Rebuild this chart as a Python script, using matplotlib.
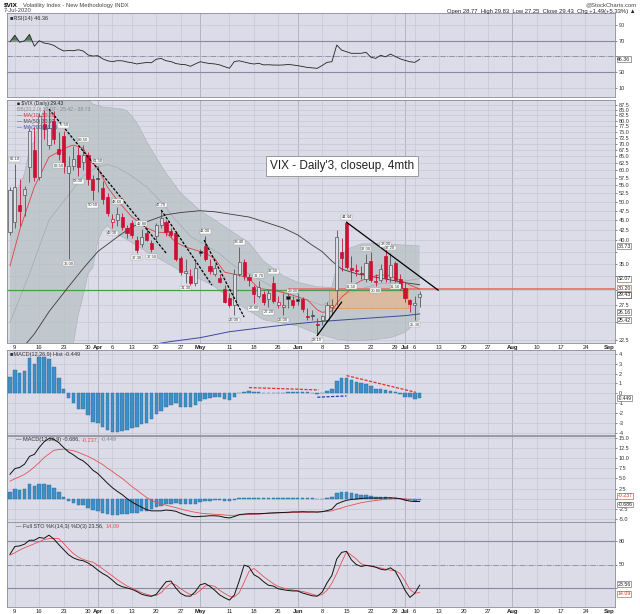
import numpy as np
import pandas as pd
import matplotlib
matplotlib.use("Agg")
import matplotlib.pyplot as plt
from matplotlib.patches import Rectangle
from matplotlib.ticker import NullLocator, NullFormatter

plt.rcParams["font.family"] = ["Liberation Sans", "DejaVu Sans"]

# trading days on the axis (Mar 6 .. Sep 1 2020), market holidays skipped
holidays = ["2020-04-10", "2020-05-25", "2020-07-03"]
days = pd.bdate_range("2020-03-06", "2020-09-01")
days = days[~days.isin(pd.to_datetime(holidays))]

opens = [42.0, 44.5, 49.2, 52.0, 61.0, 67.5, 57.8, 78.5, 69.4, 80.0,
         68.0, 73.0, 59.0, 61.5, 65.5, 63.0, 65.5, 57.0, 57.4, 54.2,
         51.3, 44.6, 44.9, 45.7, 43.1, 44.3, 40.2, 39.2, 41.8, 39.5,
         41.0, 43.8, 44.5, 42.3, 41.8, 36.2, 33.2, 32.5, 31.2, 37.6,
         38.8, 34.6, 33.0, 32.1, 30.2, 28.6, 27.6, 33.0, 35.3, 32.3,
         30.5, 29.0, 29.3, 28.5, 31.3, 27.5, 27.2, 29.0, 28.3, 28.5,
         28.5, 25.9, 26.0, 24.6, 25.2, 25.3, 27.3, 30.0, 37.5, 44.2,
         34.1, 33.8, 33.2, 32.0, 35.5, 31.6, 31.8, 36.5, 32.3, 35.2,
         32.0, 30.3, 28.4, 27.6, 28.77]
highs = [54.4, 62.1, 57.0, 54.8, 76.8, 77.0, 83.6, 84.8, 85.47, 84.3,
         75.0, 75.5, 65.0, 69.0, 68.5, 69.5, 66.5, 58.5, 61.5, 56.5,
         52.5, 46.5, 48.6, 47.0, 43.8, 45.0, 41.0, 42.8, 43.0, 40.0,
         44.2, 47.7, 45.0, 43.0, 42.2, 36.5, 36.0, 34.0, 35.5, 38.0,
         41.0, 36.0, 35.0, 33.0, 31.0, 29.5, 34.0, 38.4, 36.0, 33.0,
         31.0, 31.7, 29.8, 30.0, 32.5, 29.0, 29.5, 29.5, 29.0, 29.5,
         28.8, 27.0, 26.8, 25.5, 26.0, 28.0, 28.5, 42.5, 40.5, 44.44,
         36.5, 35.0, 34.5, 37.0, 37.5, 33.0, 35.0, 38.0, 37.2, 35.6,
         33.0, 31.5, 28.5, 29.0, 29.83]
lows = [41.2, 43.0, 43.5, 46.0, 56.0, 56.5, 56.8, 72.0, 68.0, 70.0,
        63.5, 59.0, 36.0, 60.0, 58.0, 60.0, 55.0, 50.5, 53.0, 49.5,
        46.0, 43.0, 43.5, 42.5, 40.5, 40.5, 37.3, 38.5, 39.8, 37.5,
        40.0, 43.0, 41.0, 40.8, 35.5, 32.8, 31.3, 31.0, 30.8, 36.5,
        35.5, 33.0, 32.5, 31.2, 27.8, 27.3, 26.0, 32.5, 31.8, 30.8,
        27.8, 28.6, 27.5, 27.2, 27.9, 27.0, 26.0, 27.0, 27.0, 27.5,
        26.5, 25.2, 25.2, 23.1, 24.5, 25.0, 26.0, 27.5, 33.5, 34.0,
        31.5, 32.5, 32.0, 31.5, 31.5, 30.8, 31.5, 31.5, 31.5, 31.5,
        30.0, 28.0, 26.5, 25.3, 27.25]
closes = [53.5, 54.46, 47.30, 53.90, 75.47, 57.83, 82.0, 76.0, 76.45, 72.00,
          66.04, 61.59, 61.67, 63.95, 61.00, 65.54, 57.08, 53.54, 57.06, 50.91,
          46.80, 45.24, 46.70, 43.35, 41.67, 41.17, 37.76, 40.84, 40.11, 38.15,
          43.83, 45.41, 41.98, 41.38, 35.93, 33.29, 33.57, 31.23, 34.15, 37.19,
          35.97, 33.61, 34.12, 31.44, 27.98, 27.57, 33.04, 35.28, 32.61, 31.89,
          29.30, 30.53, 27.99, 29.53, 28.16, 28.01, 27.62, 28.59, 27.51, 28.23,
          26.84, 25.66, 25.81, 24.52, 25.81, 27.57, 27.57, 40.79, 36.09, 34.40,
          33.67, 33.47, 32.94, 35.12, 31.77, 31.37, 33.84, 32.22, 34.73, 31.78,
          30.43, 28.62, 27.68, 27.94, 29.43]

# overlays (day index, value)
ma10_i = [0, 2, 5, 8, 12, 13, 15, 16, 18, 20, 22, 25, 28, 30, 32, 34, 36, 38, 40, 42,
          44, 47, 49, 51, 54, 57, 61, 63, 64, 66, 67, 68, 70, 71, 72, 74, 76, 78, 80, 82, 84]
ma10_v = [34.5, 42.5, 54.5, 64.8, 68.8, 69.4, 68.2, 64.8, 60.8, 54.4, 50.5, 45.8, 43.0, 42.0,
          41.8, 39.6, 38.5, 37.85, 37.2, 36.0, 33.3, 32.7, 32.1, 30.3, 30.0, 29.4, 28.35, 26.8,
          26.4, 26.6, 27.8, 28.8, 30.3, 31.2, 31.7, 32.4, 32.8, 32.6, 31.8, 30.9, 30.2]
ma50_i = [3, 5, 8, 12, 15, 18, 22, 25, 29, 32, 35, 39, 42, 45, 49, 52, 56, 59, 62, 64,
          66, 68, 71, 74, 77, 80, 82, 84]
ma50_v = [21.8, 23.3, 26.5, 30.6, 34.0, 37.5, 40.8, 43.3, 45.0, 46.4, 47.0, 47.5, 47.2, 46.6,
          45.8, 44.6, 43.0, 41.3, 38.9, 37.5, 35.5, 33.9, 33.0, 32.5, 32.0, 31.5, 31.2, 30.97]
ma200_i = [28, 33, 39, 45, 51, 57, 63, 69, 75, 81, 84]
ma200_v = [21.8, 22.3, 22.8, 23.6, 24.1, 24.6, 25.0, 25.3, 25.6, 25.9, 26.16]
bbu_i = [0, 1, 2, 3, 4, 5, 6, 7, 8, 9, 11, 13, 15, 17, 19, 21, 23, 24, 25, 26, 27, 28, 30,
         32, 35, 39, 42, 45, 49, 52, 56, 59, 63, 66, 67, 68, 69, 72, 76, 80, 84]
bbu_v = [46, 52, 55, 59, 68, 71, 80, 85, 89, 92, 95, 95, 93, 88, 86.5, 86, 85.5, 84.5, 82,
         79, 75, 71, 64.5, 59, 52.6, 47.5, 45, 42.5, 39.5, 35.5, 32.6, 31.4, 30.6, 30.5,
         34.5, 36.5, 38, 39.2, 39.3, 39.0, 38.73]
bbl_i = [0, 6, 10, 12, 13, 14, 15, 16, 17, 18, 19, 20, 22, 25, 28, 32, 35, 39, 42, 45,
         47, 52, 59, 63, 66, 67, 70, 74, 78, 81, 84]
bbl_v = [8, 8, 12, 18, 22, 26, 29, 33, 34.2, 39.8, 42.5, 43.5, 41.5, 39.5, 37.5, 35.2, 33.5,
         32, 30.6, 28.7, 27.6, 25.3, 24.4, 23.3, 22.8, 22.6, 22.4, 22.5, 22.8, 23.5, 25.42]
bbm_i = [0, 4, 8, 12, 15, 18, 20, 22, 25, 28, 31, 34, 37, 40, 43, 46, 49, 52, 55, 58, 61,
         64, 67, 70, 73, 76, 79, 82, 84]
bbm_v = [24.9, 33, 45, 52, 58, 61.3, 62, 61, 58, 54.5, 50, 45, 41, 39, 37, 34.5, 33, 31.5,
         30, 28.8, 28.3, 27.5, 28.8, 29.6, 30.5, 31.2, 31.3, 31.8, 32.07]

# hand-drawn trend lines: start day, start price, end day, end price
tl_i0 = [8, 31, 39.8, 63, 69]
tl_p0 = [85.47, 47.7, 40.1, 23.1, 44.44]
tl_i1 = [32, 41.4, 48, 68, 87.8]
tl_p1 = [37.2, 30.9, 25.7, 28.0, 30.0]
tl_dashed = [True, True, True, False, False]

ann_idx = [1, 11, 15, 18, 10, 14, 17, 12, 21, 22, 26, 27, 29, 31, 36, 40, 46, 47, 50, 51,
           53, 54, 56, 58, 63, 69, 70, 73, 75, 77, 78, 79, 83]
ann_side = ["H", "H", "H", "H", "L", "L", "L", "L", "L", "H", "L", "H", "L", "H", "L", "H",
            "L", "H", "L", "H", "L", "H", "L", "H", "L", "H", "L", "H", "L", "H", "H", "L", "L"]

rsi = [68.7, 77, 68, 70, 78, 63, 70, 67, 66, 64,
       60, 57, 57.5, 57.3, 58.5, 57, 52, 50.5, 51, 47,
       44.5, 43.4, 44.6, 44.5, 43, 42, 40.5, 41.5, 42.3, 42,
       46.5, 47.5, 44.5, 43.5, 41, 40, 39.5, 37.5, 40.5, 43.3,
       42, 41, 40.5, 39.3, 37, 35, 43.5, 44.5, 43, 41.5,
       40.4, 41.3, 39.3, 39.5, 39.1, 39, 39.2, 39.8, 39.2, 38.3,
       37.2, 36, 35.5, 34.9, 38.5, 42.5, 43.3, 64.5, 58, 56,
       54, 54, 54, 55.3, 49, 47.6, 51.5, 49.5, 53, 50,
       47, 45, 43.3, 42.5, 46.36]
macd = [6.0, 7.4, 7.7, 8.5, 10.4, 10.9, 12.6, 14.0, 14.8, 14.6,
        13.8, 12.6, 11.5, 10.8, 9.9, 9.3, 8.3, 7.0, 6.2, 5.0,
        3.8, 2.7, 1.8, 1.0, 0.0, -0.8, -1.5, -2.1, -2.7, -3.0,
        -3.0, -3.0, -2.8, -2.9, -3.1, -3.6, -4.0, -4.3, -4.45, -4.35,
        -4.3, -4.2, -4.2, -4.3, -4.6, -4.75, -4.4, -3.93, -3.8, -3.7,
        -3.7, -3.7, -3.65, -3.55, -3.5, -3.45, -3.4, -3.35, -3.25, -3.25,
        -3.2, -3.25, -3.25, -3.3, -3.2, -2.95, -2.6, -1.3, -0.8, -0.4,
        -0.2, -0.1, 0.05, 0.14, 0.15, 0.15, 0.15, 0.2, 0.22, 0.15,
        0.0, -0.35, -0.6, -0.7, -0.686]
signal = [4.3, 4.9, 5.4, 6.0, 6.8, 7.8, 8.9, 10.1, 11.0, 11.9,
          12.1, 12.2, 12.0, 11.8, 11.4, 10.9, 10.4, 9.8, 9.1, 8.4,
          7.5, 6.7, 5.8, 5.0, 4.0, 3.0, 2.1, 1.2, 0.3, -0.4,
          -0.9, -1.3, -1.6, -1.9, -2.2, -2.55, -2.85, -3.1, -3.35, -3.55,
          -3.7, -3.75, -3.85, -3.9, -4.0, -4.1, -4.1, -4.0, -3.95, -3.9,
          -3.85, -3.8, -3.7, -3.6, -3.55, -3.5, -3.45, -3.45, -3.4, -3.4,
          -3.35, -3.35, -3.3, -3.25, -3.2, -3.15, -3.0, -2.6, -2.3, -1.9,
          -1.6, -1.3, -1.0, -0.8, -0.6, -0.45, -0.3, -0.15, -0.05, 0.0,
          0.0, -0.05, -0.2, -0.22, -0.237]
hist = [1.7, 2.37, 2.1, 2.27, 3.56, 3.0, 3.73, 3.66, 3.46, 2.7,
        1.6, 0.4, -0.5, -0.95, -1.6, -1.63, -2.2, -2.88, -2.98, -3.46,
        -3.73, -3.9, -3.9, -3.8, -3.73, -3.56, -3.46, -3.15, -2.98, -2.6,
        -2.1, -1.76, -1.36, -1.19, -0.95, -1.36, -1.42, -1.42, -1.19, -0.78,
        -0.6, -0.5, -0.34, -0.4, -0.6, -0.68, -0.34, 0.07, 0.17, 0.27,
        0.17, 0.1, 0.07, 0.07, 0.07, 0.07, 0.07, 0.1, 0.17, 0.17,
        0.14, 0.1, 0.07, -0.03, 0.03, 0.24, 0.4, 1.29, 1.53, 1.53,
        1.36, 1.19, 1.02, 0.95, 0.75, 0.44, 0.4, 0.34, 0.27, 0.1,
        -0.07, -0.34, -0.4, -0.54, -0.449]
sto_k = [63, 73, 73.8, 76, 81, 81, 84.5, 83.5, 87.5, 82.5,
         75.5, 69, 62.5, 58.4, 56, 54.8, 52, 48, 42.8, 38.5,
         35, 30, 24.5, 21.7, 20, 18.3, 15.5, 12, 10.3, 9.3,
         12, 20, 28, 28.9, 20, 13, 9.8, 9.5, 15.4, 24,
         25.8, 22, 17, 11.1, 7.5, 4.5, 11, 29, 49.2, 47,
         37, 33.5, 28, 23.5, 22.5, 19, 17.8, 16.8, 16.2, 16.2,
         13.5, 11.8, 10, 9.5, 14.5, 26.5, 36, 57, 65.5, 66.8,
         56, 50, 47.5, 48.8, 48, 46.5, 44, 43, 45.8, 41.5,
         30, 17, 8, 13.3, 23.56]
sto_d = [62, 65, 68.5, 71.5, 74, 76.5, 79, 82, 83, 83.5,
         83, 77, 70, 64, 59.5, 56.5, 54.5, 53, 49, 44.5,
         40, 35.5, 30.5, 26.5, 22.5, 19.8, 17, 14, 12, 10.3,
         10.5, 14, 21, 25.9, 24, 19, 15, 11.5, 12, 17,
         22.5, 23.5, 22, 17, 13, 9.5, 8.5, 14, 27, 41,
         45, 40, 34.5, 30, 25.5, 22, 20, 18.5, 17.5, 16.5,
         15.5, 14, 12, 10.3, 11.5, 17, 26, 38.6, 53, 66,
         62, 57, 51, 49, 48, 47, 45.5, 44, 42.8, 42,
         38.5, 29, 18, 13.5, 14.09]

# dashed divergence lines on the histogram
hl_i = [(49, 63.3), (69, 83.2), (63, 69)]
hl_v = [(0.58, 0.34), (1.8, 0.1), (-0.4, -0.27)]
hl_c = ["#e03030", "#e03030", "#2040c0"]

BG = "#dcdce8"
GRID = "#c6c6d6"
RED = "#cc1133"
DARK = "#555555"
W, H = 640, 614
XL, XR = -0.61, 124.05
x = np.arange(len(closes))

# axis ticks: first trading day of each week / month; a week tick that sits
# right next to a month tick is dropped
ticks = []
for k in range(1, len(days)):
    d, p = days[k], days[k - 1]
    if d.month != p.month:
        ticks.append((k, d.strftime("%b"), True))
    elif d.weekday() < p.weekday():
        ticks.append((k, str(d.day), False))
month_at = {k for k, _, m in ticks if m}
ticks = [t for t in ticks if t[2] or not ({t[0] - 1, t[0] + 1} & month_at)]
tick_pos = [t[0] for t in ticks]
tick_lab = [t[1] for t in ticks]
tick_month = [t[2] for t in ticks]

fig = plt.figure(figsize=(W / 100, H / 100), dpi=100)
fig.patch.set_facecolor("white")
rend = fig.canvas.get_renderer()


def panel(top, bottom, ylim, yticks, labels):
    ax = fig.add_axes([7 / W, 1 - bottom / H, 608 / W, (bottom - top) / H])
    ax.set_facecolor(BG)
    ax.set_xlim(XL, XR)
    ax.set_ylim(*ylim)
    for p, m in zip(tick_pos, tick_month):
        ax.axvline(p, color="#adadbe" if m else GRID, lw=0.6 if m else 0.5, zorder=0.5)
    ax.set_xticks(tick_pos)
    ax.set_xticklabels([])
    ax.tick_params(axis="x", length=0)
    ax.yaxis.tick_right()
    ax.set_yticks(yticks)
    ax.set_yticklabels(labels)
    ax.tick_params(axis="y", labelsize=4, length=1.5, pad=1, colors="#333333", width=0.4)
    ax.grid(axis="y", color=GRID, lw=0.5)
    ax.set_axisbelow(True)
    for s in ax.spines.values():
        s.set_color("#8a8a9a")
        s.set_linewidth(0.6)
    return ax


def rbox(ax, v, txt, ec="#555555", tc="#222222", size=3.8):
    ax.text(1.004, v, txt, transform=ax.get_yaxis_transform(), fontsize=size, color=tc,
            va="center", ha="left", zorder=6, clip_on=False,
            bbox=dict(boxstyle="square,pad=0.08", fc="white", ec=ec, lw=0.4))


def seg_label(ax, y, parts):
    # coloured pieces of a panel title, laid out one after another
    xpos = 9 / 608
    for t, col in parts:
        tt = ax.text(xpos, y, t, transform=ax.transAxes, fontsize=4, color=col, va="center")
        bb = tt.get_window_extent(renderer=rend)
        xpos = ax.transAxes.inverted().transform((bb.x1 + 2, bb.y0))[0]


def date_labels(ax):
    ax.set_xticklabels(tick_lab)
    ax.tick_params(axis="x", labelsize=4.2, pad=1.2, colors="#222222")
    labs = ax.get_xticklabels()
    for lab, m in zip(labs, tick_month):
        if m:
            lab.set_fontweight("bold")
    labs[-1].set_horizontalalignment("right")


# header
fig.text(4 / W, 1 - 5 / H, "\\$VIX", fontsize=4.6, fontweight="bold", va="center")
fig.text(23 / W, 1 - 5 / H, "Volatility Index - New Methodology INDX", fontsize=4.2,
         va="center", color="#444444")
fig.text(4 / W, 1 - 11 / H, "7-Jul-2020", fontsize=4.2, va="center", color="#444444")
fig.text(636 / W, 1 - 5 / H, "@StockCharts.com", fontsize=4.2, va="center", ha="right",
         color="#444444")
fig.text(636 / W, 1 - 12 / H,
         "Open 28.77  High 29.83  Low 27.25  Close 29.43  Chg +1.49(+5.33%) \u25b2",
         fontsize=4.2, va="center", ha="right", color="#222222")

# RSI panel
ax_r = panel(13, 97, (-1.5, 105.2), [10, 30, 50, 70, 90], ["10", "30", "", "70", "90"])
r = np.array(rsi)
ax_r.axhline(70, color="#8888a0", lw=0.8)
ax_r.axhline(30, color="#8888a0", lw=0.8)
ax_r.axhline(50, color="#8888a0", lw=0.6, ls="-.")
ax_r.fill_between(x, r, 70, where=r > 70, interpolate=True, color="#4f7f4f", lw=0)
ax_r.plot(x, r, color="#222222", lw=0.6)
ax_r.text(0.005, 0.93, "\u25a0RSI(14) 46.36", transform=ax_r.transAxes, fontsize=4,
          color="#333333", va="center")
rbox(ax_r, rsi[-1], "46.36")

# price panel
pt = np.arange(22.5, 88.0, 2.5)
hidden = {25.0, 30.0, 32.5, 37.5}
ax_p = panel(100, 343, (22.11, 90.07), [], [])
ax_p.set_yscale("log")
ax_p.yaxis.set_minor_locator(NullLocator())
ax_p.yaxis.set_minor_formatter(NullFormatter())
ax_p.set_yticks(pt)
ax_p.set_yticklabels(["" if v in hidden else f"{v:.1f}" for v in pt])
ax_p.set_ylim(22.11, 90.07)
date_labels(ax_p)

poly_x = np.r_[bbu_i, bbl_i[::-1]]
poly_y = np.r_[bbu_v, bbl_v[::-1]]
ax_p.fill(poly_x, poly_y, color="#b7c2c6", alpha=0.75, lw=0, zorder=1)
ax_p.plot(bbu_i, bbu_v, color="#a6b0b6", lw=0.4, zorder=1.2)
ax_p.plot(bbl_i, bbl_v, color="#a6b0b6", lw=0.4, zorder=1.2)
ax_p.plot(bbm_i, bbm_v, color="#a3aab2", lw=0.5, zorder=1.2)

ax_p.fill_between([65.5, 81.6], 27.1, 30.0, color="#f2b27a", alpha=0.55, lw=0, zorder=1.5)
ax_p.plot([65.5, 81.6, 81.6, 65.5, 65.5], [27.1, 27.1, 30.0, 30.0, 27.1],
          color="#e89a50", lw=0.6, zorder=1.6)
ax_p.hlines(30.2, 57, XR, color="#f06a6a", lw=1.2, zorder=1.7)
ax_p.hlines(30.0, XL, 81.6, color="#4c9a4c", lw=0.9, zorder=1.8)

ax_p.plot(ma200_i, ma200_v, color="#3a4a9a", lw=0.7, zorder=2)
ax_p.plot(ma50_i, ma50_v, color="#3a3a3a", lw=0.6, zorder=2)
ax_p.plot(ma10_i, ma10_v, color="#e04040", lw=0.6, zorder=2)

o, hh, ll, c = map(np.array, (opens, highs, lows, closes))
prev = np.r_[c[0], c[:-1]]
for k in range(len(c)):
    col = RED if c[k] < prev[k] else DARK
    ax_p.vlines(k, ll[k], hh[k], color=col, lw=0.6, zorder=3)
    lo, hi = min(o[k], c[k]), max(o[k], c[k])
    hi = max(hi, lo * 1.006)
    face = BG if c[k] >= o[k] else (RED if col == RED else "#111111")
    ax_p.add_patch(Rectangle((k - 0.32, lo), 0.64, hi - lo, facecolor=face,
                             edgecolor=col, lw=0.5, zorder=4))

for i0, p0, i1, p1, dsh in zip(tl_i0, tl_p0, tl_i1, tl_p1, tl_dashed):
    ax_p.plot([i0, i1], [p0, p1], color="black", lw=0.9, zorder=5,
              ls=(0, (2.2, 1.2)) if dsh else "-")

for k, side in zip(ann_idx, ann_side):
    v = highs[k] if side == "H" else lows[k]
    ax_p.annotate(f"{v:.2f}", (k, v), xytext=(0, 2.2 if side == "H" else -2.2),
                  textcoords="offset points", ha="center",
                  va="bottom" if side == "H" else "top", fontsize=3.0, color="#333333",
                  zorder=6,
                  bbox=dict(boxstyle="square,pad=0.1", fc="white", ec="#999999", lw=0.3))

leg = [("\u25a0 \\$VIX (Daily) 29.43", "#222222"),
       ("BB(20,2.0) 32.07 - 25.42 - 38.73", "#888888"),
       ("\u2014 MA(10) 30.20", "#d03030"),
       ("\u2014 MA(50) 30.97", "#444444"),
       ("\u2014 MA(200) 26.16", "#3a4a9a")]
for n, (t, col) in enumerate(leg):
    ax_p.text(10 / 608, 1 - (3 + 6 * n) / 243, t, transform=ax_p.transAxes, fontsize=3.7,
              color=col, va="center", zorder=7)

ax_p.text(0.551, 0.728, "VIX - Daily'3, closeup, 4mth", transform=ax_p.transAxes,
          fontsize=8.5, ha="center", va="center", color="#222222", zorder=8,
          bbox=dict(boxstyle="square,pad=0.35", fc="white", ec="#999999", lw=0.7))

# last-value tags on the right edge (two crowded pairs nudged apart)
for v, t, ec in [(38.73, "38.73", "#555555"), (32.07, "32.07", "#555555"),
                 (30.35, "30.20", "#e03030"), (29.2, "29.43", "#111111"),
                 (26.4, "26.16", "#555555"), (25.2, "25.42", "#555555")]:
    rbox(ax_p, v, t, ec=ec)

# MACD histogram panel
ax_h = panel(350, 435, (-4.24, 4.4), [-4, -3, -2, -1, 0, 1, 2, 3, 4],
             ["-4", "-3", "-2", "-1", "0", "1", "2", "3", "4"])
ax_h.bar(x, hist, width=0.72, color="#3d8fc6", edgecolor="#2a6a9a", lw=0.3, zorder=3)
for (a, b), (va, vb), col in zip(hl_i, hl_v, hl_c):
    ax_h.plot([a, b], [va, vb], color=col, lw=0.9, ls=(0, (2.5, 1.2)), zorder=4)
ax_h.text(0.005, 0.95, "\u25a0MACD(12,26,9) Hist -0.449", transform=ax_h.transAxes,
          fontsize=4, color="#333333", va="center")
rbox(ax_h, -0.5, "-0.449", size=3.5)

# MACD panel
mt = [-5, -2.5, 0, 2.5, 5, 7.5, 10, 12.5, 15]
ax_m = panel(436, 522, (-5.74, 15.42), mt, ["" if v == 0 else f"{v:.1f}" for v in mt])
ax_m.bar(x, hist, width=0.72, color="#3d8fc6", edgecolor="#2a6a9a", lw=0.3, zorder=3)
ax_m.plot(x, signal, color="#e85050", lw=0.6, zorder=4)
ax_m.plot(x, macd, color="#111111", lw=0.7, zorder=5)
seg_label(ax_m, 0.96, [("\u2014 MACD(12,26,9) -0.686,", "#333333"),
                       ("-0.237,", "#e05050"), ("-0.449", "#888888")])
rbox(ax_m, 0.75, "-0.237", ec="#e03030", tc="#e03030")
rbox(ax_m, -1.45, "-0.686")

# full stochastics panel
ax_s = panel(522, 607, (-4.3, 104.3), [20, 50, 80], ["", "50", "80"])
ax_s.axhline(80, color="#8888a0", lw=0.8)
ax_s.axhline(20, color="#8888a0", lw=0.8)
ax_s.axhline(50, color="#8888a0", lw=0.6, ls="-.")
ax_s.plot(x, sto_d, color="#e85050", lw=0.6, zorder=4)
ax_s.plot(x, sto_k, color="#111111", lw=0.7, zorder=5)
seg_label(ax_s, 0.95, [("\u2014 Full STO %K(14,3) %D(3) 23.56,", "#333333"),
                       ("14.09", "#e05050")])
rbox(ax_s, sto_k[-1] + 1.5, "23.56")
rbox(ax_s, sto_d[-1] - 1.5, "14.09", ec="#e03030", tc="#e03030")
date_labels(ax_s)

fig.savefig("out.png", dpi=100, facecolor="white")
